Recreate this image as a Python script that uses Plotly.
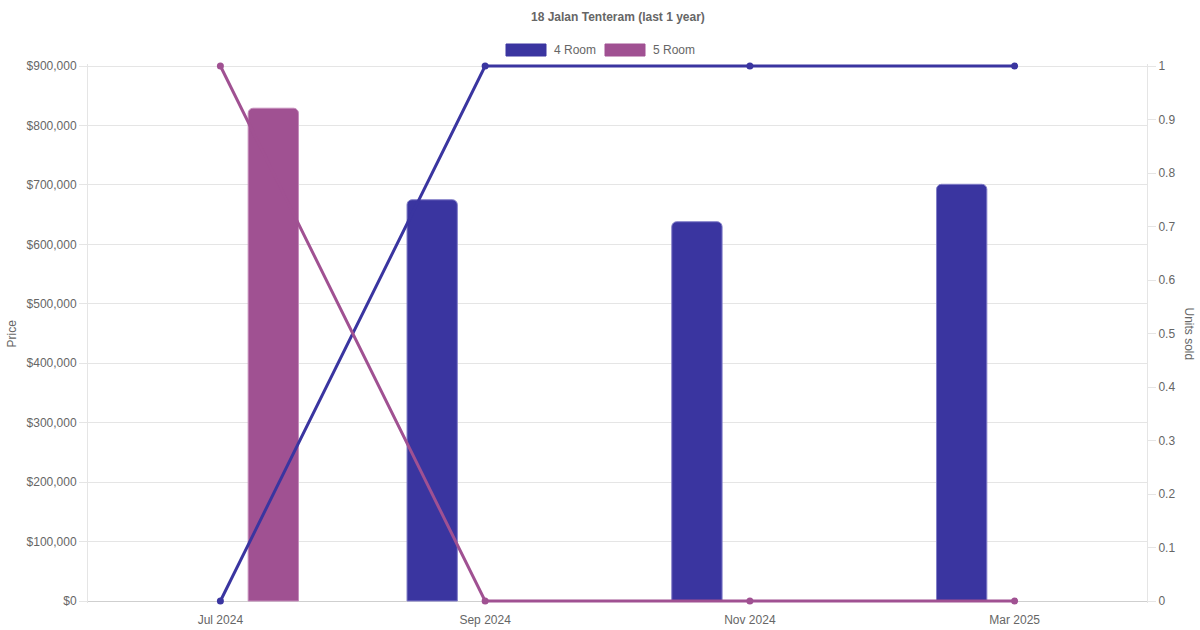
import plotly.graph_objects as go

categories = ["Jul 2024", "Sep 2024", "Nov 2024", "Mar 2025"]
price_4room = [None, 675000, 638000, 701000]
price_5room = [829000, None, None, None]
units_4room = [0, 1, 1, 1]
units_5room = [1, 0, 0, 0]
series_names = ["4 Room", "5 Room"]
title_text = "18 Jalan Tenteram (last 1 year)"

C4 = "rgb(58,53,160)"
C5 = "rgb(160,81,146)"
FONT = "Liberation Sans, Arial, Helvetica, sans-serif"
GRID = "#e5e5e5"
TXT = "#666666"

# plot area in pixels (grid from $0 at 601 to top at 66), small padding so lines are not clipped
PAD = 2
TOP, BOT, LEFT, RIGHT = 66, 601, 88, 1147
H = BOT - TOP
fr = PAD / H
PMAX = 900000
UMAX = 1

fig = go.Figure()
fig.add_trace(go.Bar(x=categories, y=price_4room, name=series_names[0],
                     marker=dict(color=C4, line=dict(color="rgba(130,126,200,1)", width=1)),
                     showlegend=False, yaxis="y"))
fig.add_trace(go.Bar(x=categories, y=price_5room, name=series_names[1],
                     marker=dict(color=C5, line=dict(color="rgba(196,140,186,1)", width=1)),
                     showlegend=False, yaxis="y"))
fig.add_trace(go.Scatter(x=categories, y=units_4room, name=series_names[0], mode="lines+markers",
                         line=dict(color=C4, width=3), marker=dict(color=C4, size=7),
                         showlegend=False, yaxis="y2", cliponaxis=False))
fig.add_trace(go.Scatter(x=categories, y=units_5room, name=series_names[1], mode="lines+markers",
                         line=dict(color=C5, width=3), marker=dict(color=C5, size=7),
                         showlegend=False, yaxis="y2", cliponaxis=False))

fig.update_layout(
    width=1200, height=630,
    margin=dict(l=LEFT, r=1200 - RIGHT, t=TOP - PAD, b=630 - BOT - PAD, autoexpand=False),
    paper_bgcolor="white", plot_bgcolor="white",
    font=dict(family=FONT, size=12, color=TXT),
    barmode="group", bargap=0.2, bargroupgap=0.525, barcornerradius=5,
    xaxis=dict(type="category", range=[-0.5, 3.5], showgrid=False, zeroline=False,
               showline=False, ticks="", automargin=False,
               tickfont=dict(size=12, color=TXT), ticklabelstandoff=8, fixedrange=True),
    yaxis=dict(range=[-PMAX * fr, PMAX * (1 + fr)], tick0=0, dtick=100000,
               tickprefix="$", tickformat=",.0f", automargin=False,
               showgrid=True, gridcolor=GRID, gridwidth=1,
               zeroline=True, zerolinecolor="#cfcfcf", zerolinewidth=1,
               showline=True, linecolor=GRID, ticks="outside", ticklen=8, tickcolor=GRID,
               tickfont=dict(size=12, color=TXT), ticklabelstandoff=0),
    yaxis2=dict(range=[-UMAX * fr, UMAX * (1 + fr)], tick0=0, dtick=0.1, overlaying="y", side="right",
                showgrid=False, zeroline=False, showline=True, linecolor=GRID, automargin=False,
                ticks="outside", ticklen=8, tickcolor=GRID,
                tickfont=dict(size=12, color=TXT), ticklabelstandoff=0),
    showlegend=False,
)

W = RIGHT - LEFT
HP = H + 2 * PAD

def px_x(p):
    return (p - LEFT) / W

def px_y(p):
    return (BOT + PAD - p) / HP

# title
fig.add_annotation(text="<b>" + title_text + "</b>", xref="paper", yref="paper",
                   x=0.5, y=px_y(17), xanchor="center", yanchor="middle", showarrow=False,
                   font=dict(size=12, color=TXT, family=FONT))

# axis titles
fig.add_annotation(text="Price", xref="paper", yref="paper", x=px_x(11), y=0.5,
                   textangle=-90, showarrow=False, xanchor="center", yanchor="middle",
                   font=dict(size=12, color=TXT, family=FONT))
fig.add_annotation(text="Units sold", xref="paper", yref="paper", x=px_x(1189), y=0.5,
                   textangle=90, showarrow=False, xanchor="center", yanchor="middle",
                   font=dict(size=12, color=TXT, family=FONT))

# custom legend
legend_items = [(series_names[0], C4, 506), (series_names[1], C5, 605)]
for name, col, x0 in legend_items:
    fig.add_shape(type="rect", xref="paper", yref="paper",
                  x0=px_x(x0), x1=px_x(x0 + 40), y0=px_y(56), y1=px_y(44),
                  fillcolor=col, line=dict(color=col, width=1))
    fig.add_annotation(text=name, xref="paper", yref="paper", x=px_x(x0 + 46), y=px_y(50),
                       xanchor="left", yanchor="middle", showarrow=False,
                       font=dict(size=12, color=TXT, family=FONT))

fig.write_html("out.html", config={"displayModeBar": False},
               post_script="document.body.style.margin='0';document.body.style.padding='0';")
